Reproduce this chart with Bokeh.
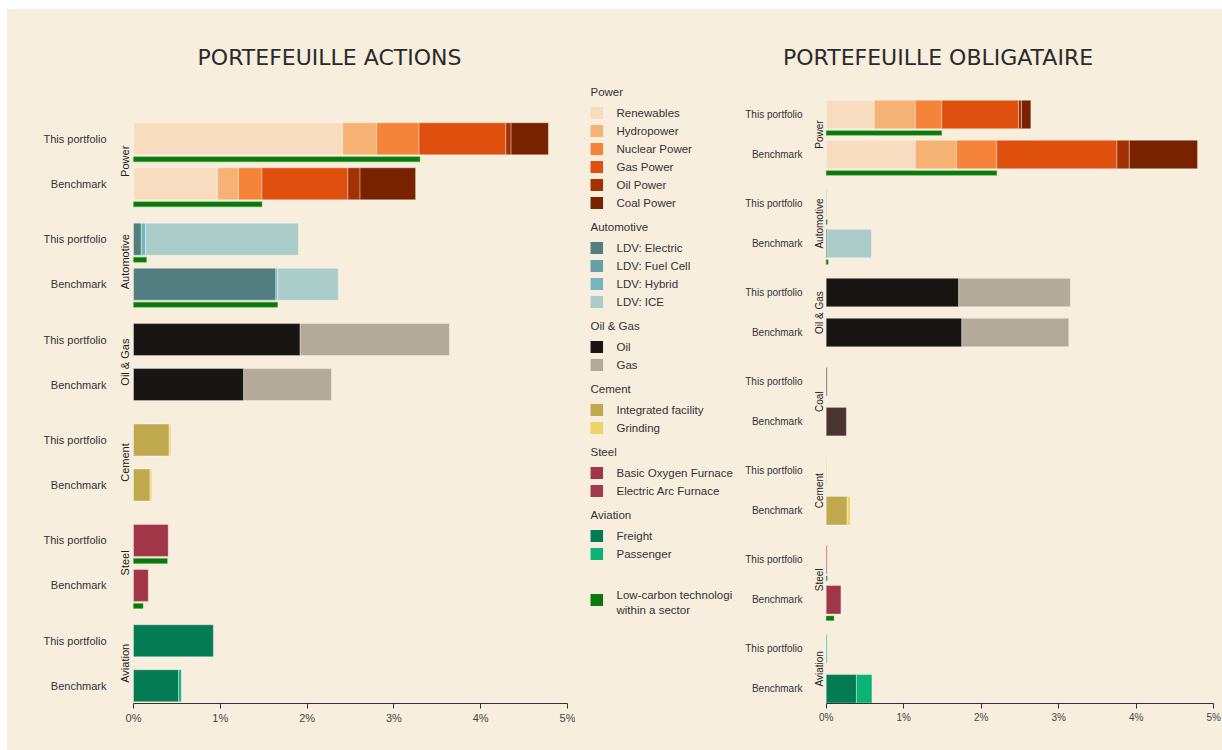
import math
import numpy as np
from bokeh.plotting import figure
from bokeh.models import Range1d, ColumnDataSource, FixedTicker
from bokeh.layouts import row
from bokeh.embed import file_html
from bokeh.resources import INLINE
from bokeh.core.properties import value

BG = "#f8eede"
FONT = "Liberation Sans"
TITLE_FONT = "DejaVu Sans"

# ---------------- technologies & colours ----------------
power_techs = ["Renewables", "Hydropower", "Nuclear Power", "Gas Power", "Oil Power", "Coal Power"]
power_colors = ["#f7dcbf", "#f6b174", "#f5833a", "#df500e", "#a33104", "#782200"]
auto_techs = ["LDV: Electric", "LDV: Fuel Cell", "LDV: Hybrid", "LDV: ICE"]
auto_colors = ["#527e80", "#64a0a6", "#74b6bd", "#abcdc9"]
oilgas_techs = ["Oil", "Gas"]
oilgas_colors = ["#181512", "#b4aa9a"]
cement_techs = ["Integrated facility", "Grinding"]
cement_colors = ["#bea94c", "#ead566"]
steel_techs = ["Basic Oxygen Furnace", "Electric Arc Furnace"]
steel_colors = ["#a03648", "#a43a4d"]
aviation_techs = ["Freight", "Passenger"]
aviation_colors = ["#047b52", "#0cb374"]
coal_colors = ["#4a3430"]
lowcarbon_color = "#0a780a"
lowcarbon_label = ["Low-carbon technologi", "within a sector"]

row_labels = ["This portfolio", "Benchmark"]
tick_values = [0, 1, 2, 3, 4, 5]
tick_labels = ["0%", "1%", "2%", "3%", "4%", "5%"]

# ---------------- equity portfolio (% of portfolio) ----------------
eq_title = "PORTEFEUILLE ACTIONS"
eq_sectors = ["Power", "Automotive", "Oil & Gas", "Cement", "Steel", "Aviation"]
eq_power_this = [2.41, 0.39, 0.49, 1.00, 0.06, 0.43]
eq_power_bench = [0.97, 0.24, 0.27, 0.99, 0.14, 0.64]
eq_auto_this = [0.09, 0.0, 0.05, 1.76]
eq_auto_bench = [1.64, 0.0, 0.02, 0.70]
eq_oilgas_this = [1.92, 1.72]
eq_oilgas_bench = [1.27, 1.01]
eq_cement_this = [0.41, 0.02]
eq_cement_bench = [0.19, 0.02]
eq_steel_this = [0.40, 0.0]
eq_steel_bench = [0.17, 0.0]
eq_aviation_this = [0.92, 0.0]
eq_aviation_bench = [0.52, 0.03]
eq_lowcarbon_this = [3.30, 0.15, None, None, 0.39, None]
eq_lowcarbon_bench = [1.48, 1.66, None, None, 0.11, None]

# ---------------- bond portfolio (% of portfolio) ----------------
bd_title = "PORTEFEUILLE OBLIGATAIRE"
bd_sectors = ["Power", "Automotive", "Oil & Gas", "Coal", "Cement", "Steel", "Aviation"]
bd_power_this = [0.62, 0.53, 0.34, 0.99, 0.04, 0.12]
bd_power_bench = [1.15, 0.53, 0.52, 1.55, 0.16, 0.88]
bd_auto_this = [0.0, 0.0, 0.0, 0.012]
bd_auto_bench = [0.02, 0.0, 0.0, 0.565]
bd_oilgas_this = [1.71, 1.44]
bd_oilgas_bench = [1.75, 1.38]
bd_coal_this = [0.012]
bd_coal_bench = [0.26]
bd_cement_this = [0.0, 0.012]
bd_cement_bench = [0.27, 0.04]
bd_steel_this = [0.012, 0.0]
bd_steel_bench = [0.19, 0.0]
bd_aviation_this = [0.0, 0.012]
bd_aviation_bench = [0.39, 0.20]
bd_lowcarbon_this = [1.49, 0.012, None, None, None, 0.012, None]
bd_lowcarbon_bench = [2.20, 0.025, None, None, None, 0.10, None]

# ---------------- page geometry ----------------
OX, OY = 7, 9            # where the cream panel starts on the page
PAGE_W, PAGE_H = 1222, 750
AXIS_Y = 703             # page y of both x axes
L_LEFT, MID, R_LEFT = OX, 575, 735
H = PAGE_H - OY


def make_chart(x0, x1, px0, scale, font_px):
    p = figure(width=x1 - x0, height=H, output_backend="svg", toolbar_location=None,
               x_range=Range1d(-(px0 - x0) / scale, 5 + (x1 - (px0 + 5 * scale)) / scale),
               y_range=Range1d(AXIS_Y, OY),
               y_axis_location=None, min_border_left=0, min_border_right=0,
               min_border_top=0, min_border_bottom=PAGE_H - AXIS_Y)
    p.background_fill_color = None
    p.border_fill_color = BG
    p.outline_line_color = None
    p.xgrid.visible = False
    p.ygrid.visible = False
    ax = p.xaxis[0]
    ax.ticker = FixedTicker(ticks=tick_values)
    ax.major_label_overrides = {v: l for v, l in zip(tick_values, tick_labels)}
    ax.bounds = (0, 5)
    ax.axis_line_color = "#333333"
    ax.major_tick_line_color = "#333333"
    ax.major_tick_out = 5
    ax.major_tick_in = 0
    ax.minor_tick_line_color = None
    ax.major_label_text_font = FONT
    ax.major_label_text_font_size = f"{font_px}px"
    ax.major_label_text_color = "#444444"
    ax.major_label_standoff = 3
    return p


def draw(p, sectors, colors, this_vals, bench_vals, low_this, low_bench, geom,
         px0, scale, label_px, sec_px, font_px, title, title_px):
    y0, pitch, gap, bar_h, green_off, green_h = geom
    to_x = lambda px: (px - px0) / scale
    for g, sec in enumerate(sectors):
        for r, vals in enumerate([this_vals[g], bench_vals[g]]):
            yc = y0 + g * pitch + r * gap
            v = np.array(vals, dtype=float)
            rights = np.cumsum(v)
            lefts = rights - v
            keep = v > 0
            src = ColumnDataSource(dict(
                y=[yc] * int(keep.sum()),
                left=list(lefts[keep]), right=list(rights[keep]),
                color=[c for c, k in zip(colors[g], keep) if k]))
            p.hbar(y="y", left="left", right="right", height=bar_h, source=src,
                   fill_color="color", line_color="#ffffff", line_alpha=0.35, line_width=1)
            low = (low_this, low_bench)[r][g]
            if low is not None:
                p.hbar(y=[yc + green_off], left=[0], right=[low], height=green_h,
                       fill_color=lowcarbon_color, line_color="#4fae4f", line_alpha=0.6,
                       line_width=0.8)
        ys = [y0 + g * pitch, y0 + g * pitch + gap]
        p.text(x=[to_x(label_px)] * 2, y=ys, text=row_labels, text_align="right",
               text_baseline="middle", text_font=value(FONT),
               text_font_size=f"{font_px}px", text_color="#333333")
        p.text(x=[to_x(sec_px)], y=[y0 + g * pitch + gap / 2], text=[sec], angle=math.pi / 2,
               text_align="center", text_baseline="middle", text_font=value(FONT),
               text_font_size=f"{font_px}px", text_color="#222222")
    p.text(x=[to_x(title_px)], y=[56.5], text=[title], text_align="center",
           text_baseline="middle", text_font=value(TITLE_FONT), text_font_size="22px",
           text_color="#2a2a2a")


# ---------------- left: equity ----------------
L_PX0, L_SCALE = 133.0, 86.8      # page px of 0 %, px per 1 %
p1 = make_chart(L_LEFT, MID, L_PX0, L_SCALE, 11)
eq_colors = [power_colors, auto_colors, oilgas_colors, cement_colors, steel_colors, aviation_colors]
eq_this = [eq_power_this, eq_auto_this, eq_oilgas_this, eq_cement_this, eq_steel_this, eq_aviation_this]
eq_bench = [eq_power_bench, eq_auto_bench, eq_oilgas_bench, eq_cement_bench, eq_steel_bench, eq_aviation_bench]
draw(p1, eq_sectors, eq_colors, eq_this, eq_bench, eq_lowcarbon_this, eq_lowcarbon_bench,
     (138.3, 100.4, 45, 32, 20.5, 5), L_PX0, L_SCALE, 106, 124, 11, eq_title, 329)

# ---------------- right: bonds ----------------
R_PX0, R_SCALE = 825.7, 77.52
p3 = make_chart(R_LEFT, PAGE_W, R_PX0, R_SCALE, 10)
bd_colors = [power_colors, auto_colors, oilgas_colors, coal_colors, cement_colors, steel_colors, aviation_colors]
bd_this = [bd_power_this, bd_auto_this, bd_oilgas_this, bd_coal_this, bd_cement_this, bd_steel_this, bd_aviation_this]
bd_bench = [bd_power_bench, bd_auto_bench, bd_oilgas_bench, bd_coal_bench, bd_cement_bench, bd_steel_bench, bd_aviation_bench]
draw(p3, bd_sectors, bd_colors, bd_this, bd_bench, bd_lowcarbon_this, bd_lowcarbon_bench,
     (114, 89.05, 40, 28.5, 18.5, 4.5), R_PX0, R_SCALE, 802, 818.5, 10, bd_title, 937.5)

# ---------------- middle: legend ----------------
# frame aligned with the charts' frames (page y OY .. AXIS_Y)
p2 = figure(width=R_LEFT - MID, height=H, output_backend="svg", toolbar_location=None,
            x_range=Range1d(MID, R_LEFT), y_range=Range1d(AXIS_Y, OY),
            x_axis_location=None, y_axis_location=None,
            min_border_left=0, min_border_right=0, min_border_top=0,
            min_border_bottom=PAGE_H - AXIS_Y)
p2.background_fill_color = None
p2.border_fill_color = BG
p2.outline_line_color = None
p2.xgrid.visible = False
p2.ygrid.visible = False

legend_groups = [("Power", power_techs, power_colors),
                 ("Automotive", auto_techs, auto_colors),
                 ("Oil & Gas", oilgas_techs, oilgas_colors),
                 ("Cement", cement_techs, cement_colors),
                 ("Steel", steel_techs, steel_colors),
                 ("Aviation", aviation_techs, aviation_colors)]
hdr_txt, hdr_y, it_txt, it_y, it_col = [], [], [], [], []
y = 91.0
for name, techs, cols in legend_groups:
    hdr_txt.append(name)
    hdr_y.append(y)
    y += 21.5
    for t, c in zip(techs, cols):
        it_txt.append(t)
        it_y.append(y)
        it_col.append(c)
        y += 18
    y += 23.5 - 18
p2.text(x=[590] * len(hdr_txt), y=hdr_y, text=hdr_txt, text_align="left", text_baseline="middle",
        text_font=value(FONT), text_font_size="11.5px", text_color="#333333")
p2.rect(x=[596.3] * len(it_txt), y=it_y, width=12.5, height=12, fill_color=it_col, line_color=None)
p2.text(x=[616] * len(it_txt), y=it_y, text=it_txt, text_align="left", text_baseline="middle",
        text_font=value(FONT), text_font_size="11.5px", text_color="#333333")
p2.rect(x=[596.3], y=[599.5], width=12.5, height=12, fill_color=lowcarbon_color, line_color=None)
p2.text(x=[616, 616], y=[594, 609], text=lowcarbon_label, text_align="left", text_baseline="middle",
        text_font=value(FONT), text_font_size="11.5px", text_color="#333333")

layout = row(p1, p2, p3, spacing=0, margin=(OY, 0, 0, OX), styles={"background-color": BG})
open("out.html", "w").write(file_html(layout, INLINE))
